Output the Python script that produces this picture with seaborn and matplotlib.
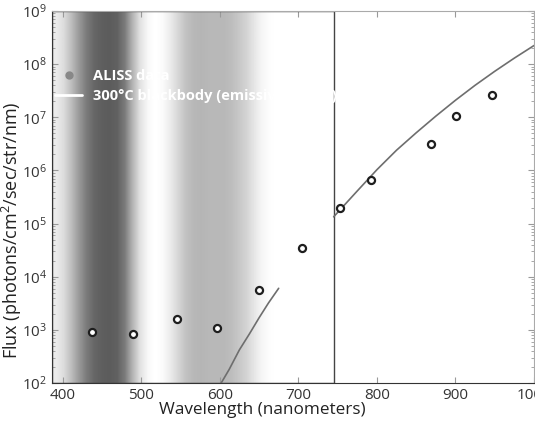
import numpy as np
import pandas as pd
import matplotlib
matplotlib.use("Agg")
from matplotlib import pyplot as plt
from matplotlib.lines import Line2D
from matplotlib.patches import Rectangle
import seaborn as sns

# ALISS measurements (wavelength nm, flux photons/cm2/sec/str/nm)
aliss_wl = [437, 490, 545, 596, 650, 705, 753, 792, 869, 901, 946]
aliss_flux = [925, 826, 1625, 1100, 5640, 34400, 2.0e5, 6.56e5, 3.08e6, 1.04e7, 2.58e7]

# 300C blackbody curve (visible parts only)
bb_wl_left = [598, 612, 625, 638, 650, 662, 675]
bb_flux_left = [80, 180, 420, 850, 1680, 3200, 6050]
bb_wl_right = [745, 775, 800, 825, 850, 875, 900, 925, 950, 975, 1000]
bb_flux_right = [1.34e5, 4.1e5, 1.03e6, 2.4e6, 5.1e6, 1.05e7, 2.09e7, 4.0e7, 7.33e7, 1.3e8, 2.24e8]

# grey bands of the background image, every 10 nm from 385 nm (0 black, 1 white)
band_gray = [0.92, 0.86, 0.74, 0.60, 0.48, 0.40, 0.37, 0.36, 0.38, 0.48,
             0.70, 0.88, 0.97, 1.00, 0.98, 0.92, 0.84, 0.76, 0.72, 0.71,
             0.72, 0.72, 0.72, 0.74, 0.78, 0.83, 0.90, 0.96, 0.99, 1.00,
             1.00, 1.00, 1.00, 1.00, 1.00, 1.00, 1.00]

x_ticks = [400, 500, 600, 700, 800, 900, 1000]

sns.set_style("ticks")
plt.rcParams["font.family"] = ["Open Sans", "DejaVu Sans"]
plt.rcParams["mathtext.fontset"] = "custom"
plt.rcParams["mathtext.rm"] = "Open Sans"

fig = plt.figure(figsize=(5.35, 4.21), dpi=100)
ax = fig.add_axes([52 / 535, 1 - 383 / 421, (534 - 52) / 535, (383 - 11) / 421])
ax.set_yscale("log")

# background panel
ax.imshow(np.array([band_gray]), cmap="gray", vmin=0, vmax=1, aspect="auto",
          interpolation="bilinear", extent=[386.5, 745, 1e2, 1e9], zorder=0)
ax.add_patch(Rectangle((386.5, 1e2), 745 - 386.5, 1e9 - 1e2, fill=False,
                       edgecolor="#444444", linewidth=1.0, zorder=1))

bb_left = pd.DataFrame({"wl": bb_wl_left, "flux": bb_flux_left})
bb_right = pd.DataFrame({"wl": bb_wl_right, "flux": bb_flux_right})
sns.lineplot(data=bb_left, x="wl", y="flux", ax=ax, color="#6e6e6e", linewidth=1.2, zorder=2)
sns.lineplot(data=bb_right, x="wl", y="flux", ax=ax, color="#6e6e6e", linewidth=1.2, zorder=2)

aliss = pd.DataFrame({"wl": aliss_wl, "flux": aliss_flux})
sns.scatterplot(data=aliss, x="wl", y="flux", ax=ax, s=26, color="white",
                edgecolor="#1e1e1e", linewidth=1.6, zorder=3)

ax.set_xlim(386.5, 1000)
ax.set_ylim(1e2, 1e9)
ax.set_xticks(x_ticks)
ax.tick_params(which="both", direction="in", top=True, right=True, colors="#999999",
               labelcolor="#333333", labelsize=11)
ax.tick_params(which="major", length=4)
ax.tick_params(which="minor", length=2)

for side in ["left", "bottom"]:
    ax.spines[side].set_color("#333333")
for side in ["top", "right"]:
    ax.spines[side].set_color("#aaaaaa")

ax.set_xlabel("Wavelength (nanometers)", fontsize=12.3, color="#222222")
ax.xaxis.set_label_coords(0.436, -0.05)
ax.set_ylabel("Flux (photons/cm$^2$/sec/str/nm)", fontsize=13, color="#222222")
ax.yaxis.set_label_coords(-0.058, 0.41)

handles = [Line2D([], [], marker="o", linestyle="none", color="#888888", markersize=5),
           Line2D([], [], color="white", linewidth=2)]
ax.legend(handles, ["ALISS data", "300°C blackbody (emissivity = 0.3)"],
          loc="upper left", bbox_to_anchor=(-0.02, 0.88), frameon=False,
          labelcolor="white", prop={"size": 10.5, "weight": "bold"},
          handlelength=1.8, handletextpad=0.8, labelspacing=0.45)

fig.savefig("out.png", dpi=100)
